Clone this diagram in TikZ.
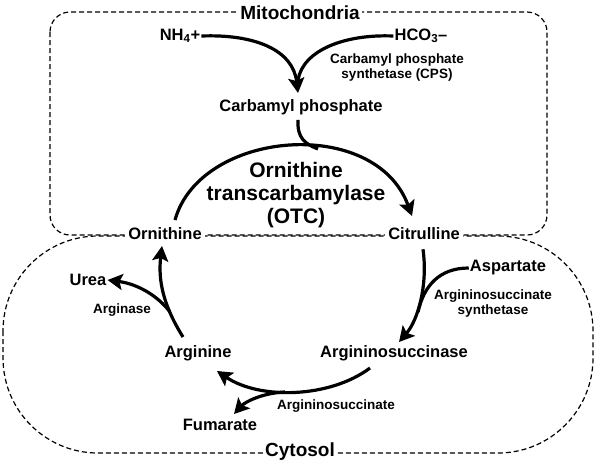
\documentclass[tikz,border=0pt]{standalone}
\usepackage{fontspec}
\setmainfont{Liberation Sans}
\usetikzlibrary{arrows.meta}
\begin{document}
\begin{tikzpicture}[x=1pt,y=-1pt,
  lab/.style={font=\bfseries\fontsize{16.5}{18}\selectfont, inner sep=1pt},
  small/.style={font=\bfseries\fontsize{13.5}{15}\selectfont, inner sep=1pt, align=center},
  title/.style={font=\bfseries\fontsize{19}{21}\selectfont, fill=white, inner sep=2pt},
  onedge/.style={lab, fill=white, inner sep=3pt},
  otc/.style={font=\bfseries\fontsize{21}{23}\selectfont, align=center, inner sep=1pt},
  dbox/.style={dash pattern=on 5pt off 3pt, line width=1.2pt},
  flow/.style={line width=3.2pt, -{Stealth[length=15pt,width=16pt,inset=3pt]}},
  feed/.style={line width=3.2pt}]
\useasboundingbox (0,0) rectangle (596,464);
% compartments
\draw[dbox, rounded corners=20] (50,12) rectangle (547,235);
\draw[dbox, rounded corners=95] (3,236) rectangle (593,453);
\node[title] (mito) at (300,13) {Mitochondria};
\node[title] (cyto) at (300,452) {Cytosol};
% nodes
\node[lab] (nh4) at (180,36) {NH\textsubscript{4}+};
\node[lab] (hco3) at (421,36) {HCO\textsubscript{3}--};
\node[small] (cps) at (397,68) {Carbamyl phosphate\\synthetase (CPS)};
\node[lab] (cp) at (301,107) {Carbamyl phosphate};
\node[otc] (otc) at (296,195) {Ornithine\\transcarbamylase\\(OTC)};
\node[onedge] (orn) at (165,234) {Ornithine};
\node[onedge] (cit) at (424,234) {Citrulline};
\node[lab] (asp) at (508,268) {Aspartate};
\node[small] (ass) at (493,304) {Argininosuccinate\\synthetase};
\node[lab] (asa) at (394,353) {Argininosuccinase};
\node[lab] (arg) at (198,353) {Arginine};
\node[lab] (urea) at (88,280) {Urea};
\node[small] (arginase) at (122,310) {Arginase};
\node[small] (argsuc) at (336,406) {Argininosuccinate};
\node[lab] (fum) at (220,425) {Fumarate};
% connectors
\coordinate (cpin) at (298,93);
\draw[flow] (nh4.east) .. controls (255,34) and (293,50) .. (cpin);
\draw[feed] (hco3.west) .. controls (345,34) and (303,50) .. (298,80);
\coordinate (otcs) at (175,220);
\coordinate (otce) at (412,216);
\draw[flow] (otcs) .. controls (200,130) and (375,115) .. (otce);
\draw[feed] (cp.south) ++(-3,4) .. controls (297,138) and (305,144) .. (318,149);
\coordinate (asain) at (399,342);
\draw[flow] (cit.south) ++(-1,6) .. controls (428,285) and (418,320) .. (asain);
\draw[feed] (asp.west) .. controls (440,268) and (424,285) .. (418,312);
\coordinate (asaout) at (370,368);
\coordinate (argin) at (217,371);
\draw[flow] (asaout) .. controls (330,398) and (260,400) .. (argin);
\coordinate (fumin) at (234,414);
\draw[flow] (285,392) .. controls (262,393) and (245,402) .. (fumin);
\coordinate (argout) at (183,337);
\draw[flow] (argout) .. controls (163,305) and (158,280) .. (162,246);
\draw[flow] (170,312) .. controls (158,296) and (138,284) .. (urea.east);
\end{tikzpicture}
\end{document}
